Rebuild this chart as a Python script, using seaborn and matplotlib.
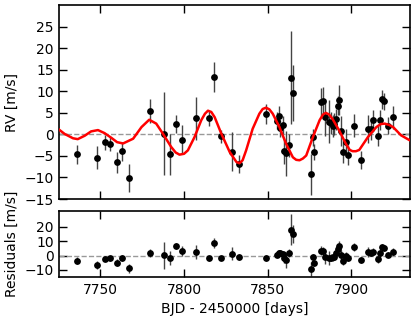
import matplotlib
matplotlib.use("Agg")
import matplotlib.pyplot as plt
import seaborn as sns
import pandas as pd

# --- data ---
days = [7735.9, 7748.0, 7753.0, 7756.0, 7760.0, 7763.0, 7767.2, 7779.9, 7788.0, 7791.9,
        7795.1, 7798.9, 7806.9, 7814.7, 7817.9, 7821.9, 7828.9, 7833.1, 7849.0, 7855.8,
        7857.0, 7857.6, 7859.0, 7860.0, 7861.0, 7862.8, 7863.8, 7865.0, 7876.0, 7877.0,
        7877.8, 7882.0, 7883.2, 7884.0, 7886.8, 7887.8, 7888.7, 7889.8, 7891.0, 7891.7,
        7892.8, 7894.0, 7894.9, 7897.0, 7897.9, 7901.7, 7905.9, 7909.9, 7911.9, 7912.7,
        7915.7, 7916.9, 7918.5, 7919.7, 7921.7, 7924.7]
rv = [-4.65, -5.4, -1.86, -2.26, -6.5, -3.9, -10.1, 5.4, 0.2, -4.6,
      2.5, -1.2, 3.7, 3.7, 13.3, -0.4, -4.0, -6.8, 4.8, 3.2,
      4.2, 1.4, 2.2, -3.9, -4.4, -2.5, 13.1, 9.6, -9.3, -0.7,
      -4.1, 7.5, 7.8, 4.0, 2.9, 2.7, 1.9, 2.4, 3.5, 6.7,
      8.0, 0.8, -4.0, -1.7, -4.8, 2.0, -6.0, 1.2, 1.2, 3.3,
      -0.3, 3.3, 8.1, 7.7, 2.0, 4.0]
rv_err = [2.2, 2.7, 1.7, 1.7, 2.5, 2.2, 3.2, 2.8, 9.6, 4.8,
          2.1, 3.3, 5.0, 1.8, 3.4, 1.5, 4.6, 2.1, 2.3, 1.9,
          2.3, 2.0, 2.0, 2.9, 5.2, 2.7, 10.8, 6.4, 4.8, 2.0,
          1.9, 3.3, 3.1, 4.3, 5.0, 2.5, 2.5, 2.5, 2.5, 2.1,
          3.5, 3.5, 2.7, 2.9, 2.3, 2.7, 2.1, 3.3, 2.5, 2.3,
          2.5, 2.3, 2.3, 2.0, 2.0, 2.7]
resid = [-3.5, -6.6, -2.4, -1.9, -4.9, -1.9, -8.7, 1.9, 0.2, -1.9,
         6.8, 3.3, 2.6, -1.9, 8.7, -1.9, 1.2, -0.7, -1.6, 0.7,
         1.6, 1.9, 1.2, -1.9, -3.1, 1.6, 18.1, 15.3, -9.2, -1.2,
         -5.4, 3.5, 3.1, -1.2, -1.6, -1.6, -1.2, -0.7, 1.6, 4.5,
         6.8, 0.7, -3.5, -0.5, -1.6, 5.9, -3.1, 2.4, 1.9, 2.8,
         -2.6, 1.6, 5.9, 5.2, 0.7, 2.8]

model_t = [7724.7, 7728.7, 7733.7, 7736.5, 7740.7, 7744.5, 7748.6, 7752.5, 7756.6, 7760.0,
           7763.6, 7769.6, 7774.6, 7779.2, 7783.4, 7787.4, 7792.3, 7795.0, 7797.3, 7800.0,
           7802.3, 7806.3, 7810.3, 7812.5, 7814.3, 7816.3, 7818.3, 7822.3, 7827.3, 7831.3,
           7833.1, 7835.0, 7837.1, 7841.0, 7845.0, 7847.0, 7849.0, 7851.0, 7853.0, 7857.0,
           7861.0, 7865.0, 7867.0, 7869.0, 7871.0, 7873.0, 7877.0, 7881.0, 7883.0, 7884.7,
           7886.7, 7888.7, 7892.7, 7896.7, 7899.0, 7900.7, 7902.7, 7904.7, 7909.9, 7914.9,
           7917.5, 7919.9, 7922.5, 7924.9, 7929.6, 7935.0]
model_rv = [1.3, 0.1, -0.9, -1.1, -0.3, 0.7, 1.0, 0.3, -0.8, -1.8,
            -2.1, -1.0, 1.7, 3.4, 2.5, 0.15, -2.9, -4.2, -4.7, -4.5,
            -3.7, -0.6, 3.3, 4.8, 5.5, 5.2, 4.0, 0.15, -4.1, -6.4,
            -6.7, -6.0, -3.7, 1.3, 4.8, 5.9, 6.2, 5.8, 4.8, 1.7,
            -2.2, -5.3, -5.9, -6.0, -5.6, -4.9, -0.6, 3.3, 4.6, 5.0,
            4.6, 3.6, 0.9, -2.2, -3.6, -3.9, -3.9, -3.6, -0.6, 1.7,
            2.4, 2.5, 2.2, 1.7, -0.2, -1.4]

rv_ticks = [-15, -10, -5, 0, 5, 10, 15, 20, 25]
res_ticks = [-10, 0, 10, 20]
x_ticks = [7750, 7800, 7850, 7900]

# --- style ---
sns.set_theme(style="ticks")
plt.rcParams["font.family"] = ["DejaVu Sans"]
plt.rcParams.update({
    "font.size": 10,
    "axes.labelsize": 10,
    "xtick.labelsize": 10,
    "ytick.labelsize": 10,
    "axes.linewidth": 1.2,
    "axes.edgecolor": "black",
    "xtick.color": "black",
    "ytick.color": "black",
    "text.color": "black",
    "axes.labelcolor": "black",
})

data = pd.DataFrame({"t": days, "rv": rv, "err": rv_err, "res": resid})
model = pd.DataFrame({"t": model_t, "rv": model_rv})

fig = plt.figure(figsize=(4.16, 3.2), dpi=100)
ax1 = fig.add_axes([0.1426, 0.378, 0.843, 0.606])
ax2 = fig.add_axes([0.1426, 0.134, 0.843, 0.206])

xlim = (7725.5, 7935.0)

for ax in (ax1, ax2):
    ax.axhline(0, color="#999999", ls="--", lw=1.0, zorder=1)

# top panel
ax1.errorbar(data["t"], data["rv"], yerr=data["err"], fmt="none",
             ecolor="#444444", elinewidth=1.0, zorder=2)
sns.scatterplot(data=data, x="t", y="rv", ax=ax1, color="black", s=24,
                edgecolor="black", linewidth=0, zorder=3)
sns.lineplot(data=model, x="t", y="rv", ax=ax1, color="red", lw=1.8, zorder=4,
             sort=False, solid_joinstyle="round", solid_capstyle="round")
ax1.set_xlim(*xlim)
ax1.set_ylim(-15, 30)
ax1.set_yticks(rv_ticks)
ax1.set_xticks(x_ticks)
ax1.set_xticklabels([])
ax1.set_xlabel("")
ax1.set_ylabel("RV [m/s]")

# bottom panel
ax2.errorbar(data["t"], data["res"], yerr=data["err"], fmt="none",
             ecolor="#444444", elinewidth=1.0, zorder=2)
sns.scatterplot(data=data, x="t", y="res", ax=ax2, color="black", s=24,
                edgecolor="black", linewidth=0, zorder=3)
ax2.set_xlim(*xlim)
ax2.set_ylim(-15, 31)
ax2.set_yticks(res_ticks)
ax2.set_xticks(x_ticks)
ax2.set_xlabel("BJD - 2450000 [days]")
ax2.set_ylabel("Residuals [m/s]")

for ax in (ax1, ax2):
    ax.tick_params(direction="in", length=6, width=1.0, top=True, right=True, pad=4)
    for sp in ax.spines.values():
        sp.set_visible(True)
        sp.set_linewidth(1.2)

fig.align_ylabels([ax1, ax2])
fig.savefig("out.png", dpi=100)
